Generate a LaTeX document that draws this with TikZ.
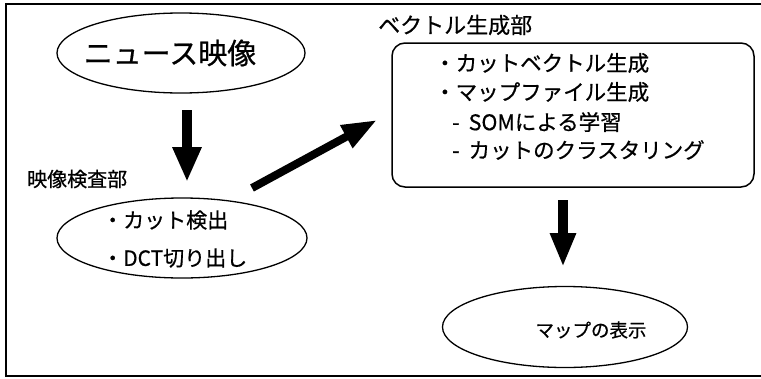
\documentclass[tikz,border=0pt]{standalone}
\usepackage{fontspec}
\setmainfont{Noto Sans CJK JP}[FakeBold=0.6]
\usetikzlibrary{shapes.geometric,arrows.meta}
\tikzset{
  oval/.style={draw, ellipse, line width=1.3pt, inner sep=0pt},
  txt/.style={inner sep=0pt, anchor=west},
  bigarrow/.style={line width=10pt, -{Triangle[length=35pt,width=27pt]}},
  framel/.style={line width=1.5pt},
}
\begin{document}
\begin{tikzpicture}[x=1pt,y=-1pt]
\useasboundingbox (0,0) rectangle (761,378);
% frame
\draw[framel] (761,4) -- (6,4) -- (6,376) -- (761,376);
% news video
\node[oval, minimum width=248pt, minimum height=80pt] (e1) at (181,53) {};
\node[inner sep=0pt, font=\fontsize{29}{33}\selectfont] (e1t) at (170,53) {ニュース映像};
% video inspection
\node[txt, font=\fontsize{20}{24}\selectfont] (lab1) at (27,179) {映像検査部};
\node[oval, minimum width=250pt, minimum height=80pt] (e2) at (182,238) {};
\node[txt, font=\fontsize{21}{25}\selectfont] (e2a) at (102,220) {・カット検出};
\node[txt, font=\fontsize{21}{25}\selectfont] (e2b) at (102,258) {・DCT切り出し};
% vector generation
\node[txt, font=\fontsize{22}{26}\selectfont] (lab2) at (378,25) {ベクトル生成部};
\draw[line width=1.5pt, rounded corners=13pt] (392,43) rectangle (754,187);
\node[txt, font=\fontsize{21.5}{25}\selectfont] (b1) at (434,63) {・カットベクトル生成};
\node[txt, font=\fontsize{21.5}{25}\selectfont] (b2) at (434,92) {・マップファイル生成};
\node[txt, font=\fontsize{21.5}{25}\selectfont] (b3) at (452,122) {-\hspace{9pt}SOMによる学習};
\node[txt, font=\fontsize{21.5}{25}\selectfont] (b4) at (452,150) {-\hspace{9pt}カットのクラスタリング};
% map display
\node[oval, minimum width=245pt, minimum height=81pt] (e3) at (565,327) {};
\node[inner sep=0pt, font=\fontsize{18.5}{22}\selectfont] (e3t) at (591,330) {マップの表示};
% arrows
\coordinate (a1s) at (187,110);
\coordinate (a1e) at (187,182);
\draw[bigarrow] (a1s) -- (a1e);
\coordinate (a2s) at (252,188);
\coordinate (a2e) at (377,120);
\draw[line width=8pt, -{Triangle[length=35pt,width=24pt]}] (a2s) -- (a2e);
\coordinate (a3s) at (563,200);
\coordinate (a3e) at (563,267);
\draw[line width=10pt, -{Triangle[length=34pt,width=24pt]}] (a3s) -- (a3e);
\end{tikzpicture}
\end{document}
